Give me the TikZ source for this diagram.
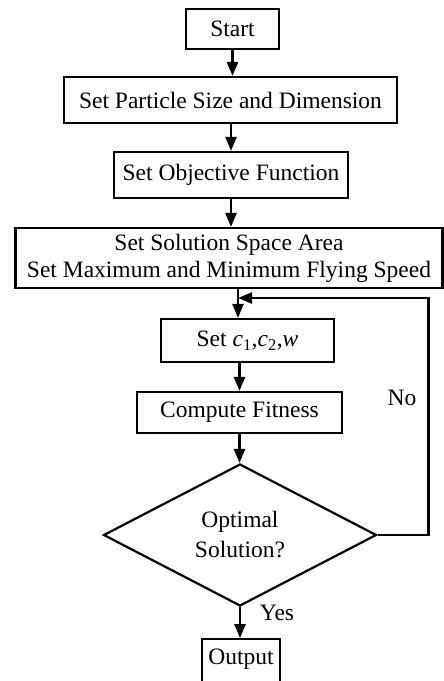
\documentclass[tikz,border=0pt]{standalone}
\usepackage{fontspec}
\setmainfont{Liberation Serif}
\usetikzlibrary{shapes.geometric,arrows.meta}
\begin{document}
\begin{tikzpicture}[x=1pt,y=-1pt,
  box/.style={draw,line width=2.2pt,rectangle,inner sep=0pt,align=center,font=\fontsize{23.5}{27}\selectfont},
  arr/.style={line width=2.4pt,-{Triangle[length=14pt,width=11pt]}},
  lbl/.style={inner sep=0pt,font=\fontsize{23.5}{27}\selectfont}]
\path[clip] (0,0) rectangle (444,681);
\node[box,minimum width=93,minimum height=40] (start) at (232.5,29) {Start};
\node[box,minimum width=333,minimum height=46] (part) at (230.5,100) {Set Particle Size and Dimension};
\node[box,minimum width=234,minimum height=46] (obj) at (231,175) {Set Objective Function};
\node[box,minimum width=427,minimum height=60] (sol) at (229,258) {Set Solution Space Area\\Set Maximum and Minimum Flying Speed};
\node[box,minimum width=173,minimum height=43] (setc) at (247.5,340.5) {Set \textit{c}\textsubscript{1},\textit{c}\textsubscript{2},\textit{w}};
\node[box,minimum width=205,minimum height=41] (fit) at (239.5,412.5) {Compute Fitness};
\node[box,shape=diamond,minimum width=273,minimum height=142,font=\fontsize{23.5}{30}\selectfont] (dia) at (240,535) {Optimal\\Solution?};
\node[box,anchor=north,minimum width=78,text height=21pt,text depth=30pt,inner ysep=4pt] (out) at (241,638) {Output};
\coordinate (m) at (238,298);
\node[lbl] (no) at (402,398) {No};
\node[lbl] (yes) at (277,613) {Yes};
\draw[arr] (start.south) -- (start.south |- part.north);
\draw[arr] (obj.north |- part.south) -- (obj.north);
\draw[arr] (obj.south) -- (obj.south |- sol.north);
\draw[arr] (sol.south -| m) -- (setc.north -| m);
\draw[arr] (setc.south -| fit.north) -- (fit.north);
\draw[arr] (fit.south) -- (fit.south |- dia.north);
\draw[arr] (dia.south) -- (dia.south |- out.north);
\draw[arr] (dia.east) -- ++(51,0) |- (m);
\end{tikzpicture}
\end{document}
